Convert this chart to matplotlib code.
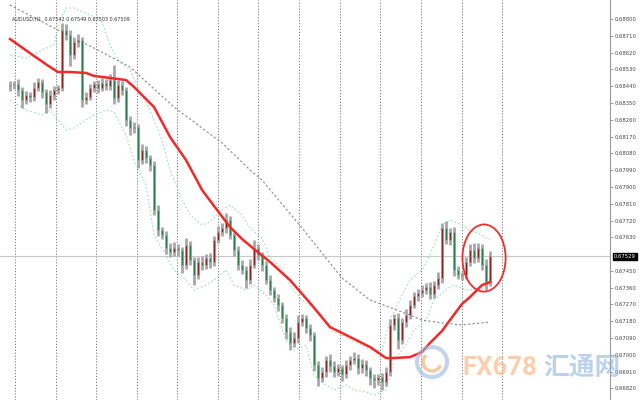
import matplotlib
matplotlib.use("Agg")
import matplotlib.pyplot as plt
from matplotlib.patches import Ellipse, Arc
import numpy as np

# AUDUSD H1 closes (first open given separately, each open = previous close)
first_open = 0.68440
closes = [
    0.68446, 0.68452, 0.68420, 0.68366, 0.68393, 0.68382, 0.68430, 0.68463, 0.68409, 0.68345,
    0.68393, 0.68420, 0.68430, 0.68741, 0.68714, 0.68607, 0.68677, 0.68688, 0.68366, 0.68382,
    0.68430, 0.68452, 0.68430, 0.68457, 0.68441, 0.68473, 0.68377, 0.68446, 0.68420, 0.68259,
    0.68216, 0.68221, 0.68044, 0.68098, 0.68055, 0.68018, 0.67776, 0.67669, 0.67642, 0.67573,
    0.67551, 0.67573, 0.67562, 0.67482, 0.67589, 0.67508, 0.67428, 0.67498, 0.67482, 0.67519,
    0.67498, 0.67616, 0.67659, 0.67680, 0.67723, 0.67642, 0.67562, 0.67482, 0.67455, 0.67401,
    0.67482, 0.67573, 0.67535, 0.67482, 0.67401, 0.67348, 0.67305, 0.67267, 0.67198, 0.67122,
    0.67064, 0.67090, 0.67176, 0.67198, 0.67144, 0.67106, 0.66946, 0.66876, 0.66908, 0.66972,
    0.66940, 0.66908, 0.66930, 0.66897, 0.66946, 0.66972, 0.66983, 0.66930, 0.66951, 0.66919,
    0.66876, 0.66865, 0.66881, 0.66854, 0.66908, 0.67160, 0.67198, 0.67080, 0.67176, 0.67214,
    0.67267, 0.67315, 0.67331, 0.67348, 0.67364, 0.67326, 0.67374, 0.67412, 0.67680, 0.67616,
    0.67659, 0.67455, 0.67428, 0.67428, 0.67498, 0.67562, 0.67519, 0.67573, 0.67482, 0.67390,
    0.67529,
]
# wick lengths in points (1e-5)
wick_up = [
    20, 15, 25, 18, 22, 15, 30, 20, 15, 18,
    25, 20, 15, 40, 30, 25, 20, 30, 15, 25,
    20, 18, 22, 25, 20, 30, 80, 25, 20, 15,
    20, 25, 15, 30, 20, 15, 20, 25, 15, 20,
    25, 30, 20, 15, 35, 20, 15, 25, 30, 20,
    25, 20, 30, 25, 40, 20, 15, 20, 25, 20,
    30, 45, 20, 15, 20, 25, 15, 20, 15, 20,
    25, 30, 40, 20, 15, 20, 15, 20, 25, 20,
    30, 25, 20, 15, 25, 20, 30, 20, 25, 20,
    15, 20, 15, 20, 25, 30, 20, 25, 20, 30,
    25, 20, 20, 25, 20, 25, 20, 30, 25, 40,
    20, 25, 20, 15, 25, 30, 40, 25, 20, 30,
    25,
]
wick_dn = [
    25, 20, 30, 45, 20, 25, 20, 15, 30, 50,
    20, 25, 20, 15, 25, 60, 20, 25, 40, 20,
    15, 20, 25, 15, 20, 20, 30, 20, 25, 30,
    40, 25, 45, 20, 25, 30, 25, 30, 20, 35,
    25, 20, 30, 45, 20, 25, 55, 20, 25, 20,
    30, 20, 15, 20, 25, 20, 30, 25, 20, 45,
    20, 15, 25, 30, 20, 25, 20, 30, 25, 35,
    40, 20, 25, 20, 25, 30, 35, 45, 20, 25,
    30, 25, 20, 35, 20, 25, 20, 30, 25, 30,
    35, 45, 25, 40, 20, 20, 25, 50, 20, 25,
    20, 15, 25, 20, 20, 25, 20, 20, 25, 20,
    25, 30, 20, 25, 20, 20, 25, 20, 25, 45,
    20,
]

# moving averages / bands sampled at bar index
ma_red_x = [0, 6, 10, 12, 15, 19, 21, 25, 29, 31, 36, 40, 44, 48, 51, 55, 58, 61, 65, 70,
            75, 80, 85, 90, 94, 96, 100, 103, 105, 108, 110, 113, 115, 118, 120]
ma_red_y = [0.68693, 0.68602, 0.68543, 0.68516, 0.68516, 0.68511, 0.68495, 0.68484, 0.68473, 0.68436,
            0.68328, 0.68168, 0.68044, 0.67884, 0.67798, 0.67685, 0.67621, 0.67567, 0.67498, 0.67401,
            0.67278, 0.67149, 0.67096, 0.67042, 0.66983, 0.66983, 0.66988, 0.67015, 0.67064, 0.67128,
            0.67187, 0.67273, 0.67310, 0.67374, 0.67390]
ma_gray_x = [0, 12, 22, 30, 41, 48, 53, 60, 63, 73, 83, 90, 98, 103, 108, 113, 120]
ma_gray_y = [0.68875, 0.68741, 0.68634, 0.68543, 0.68328, 0.68216, 0.68136, 0.67991, 0.67937, 0.67680,
             0.67412, 0.67294, 0.67230, 0.67187, 0.67171, 0.67160, 0.67176]
band_up_x = [0, 4, 8, 11, 12, 14, 16, 20, 23, 25, 27, 30, 33, 35, 38, 40, 43, 45, 48, 50,
             53, 55, 58, 60, 63, 65, 68, 70, 73, 75, 78, 80, 83, 85, 88, 90, 93, 95, 98, 100,
             103, 105, 108, 110, 113, 115, 118, 120]
band_up_y = [0.68607, 0.68591, 0.68634, 0.68661, 0.68768, 0.68859, 0.68859, 0.68822, 0.68784, 0.68661,
             0.68580, 0.68527, 0.68393, 0.68312, 0.68152, 0.67991, 0.67830, 0.67750, 0.67696, 0.67712,
             0.67776, 0.67803, 0.67750, 0.67680, 0.67626, 0.67519, 0.67466, 0.67374, 0.67294, 0.67267,
             0.67214, 0.67133, 0.67106, 0.67080, 0.67053, 0.67026, 0.67026, 0.67187, 0.67321, 0.67401,
             0.67455, 0.67535, 0.67696, 0.67723, 0.67696, 0.67669, 0.67642, 0.67616]
band_dn_x = [0, 4, 8, 10, 12, 14, 16, 19, 21, 24, 26, 29, 31, 34, 36, 39, 41, 44, 46, 49,
             51, 54, 56, 59, 61, 64, 66, 69, 71, 74, 76, 79, 81, 84, 86, 89, 91, 94, 96, 99,
             101, 104, 106, 109, 111, 114, 116, 120]
band_dn_y = [0.68366, 0.68312, 0.68286, 0.68312, 0.68259, 0.68205, 0.68216, 0.68259, 0.68286, 0.68312,
             0.68302, 0.68178, 0.68044, 0.67910, 0.67642, 0.67535, 0.67455, 0.67401, 0.67348, 0.67374,
             0.67401, 0.67455, 0.67374, 0.67348, 0.67374, 0.67321, 0.67267, 0.67080, 0.67026, 0.67053,
             0.66892, 0.66838, 0.66812, 0.66838, 0.66812, 0.66801, 0.66785, 0.66812, 0.66972, 0.67053,
             0.67133, 0.67187, 0.67294, 0.67348, 0.67374, 0.67348, 0.67348, 0.67358]

separators = [1.25, 11.4, 21.5, 31.7, 41.8, 52.0, 62.1, 72.3, 82.4, 92.6, 102.7, 112.9, 123.0]
y_ticks = [0.68800, 0.68710, 0.68620, 0.68530, 0.68440, 0.68350, 0.68260, 0.68170, 0.68080,
           0.67990, 0.67900, 0.67810, 0.67720, 0.67630, 0.67450, 0.67360, 0.67270, 0.67180,
           0.67090, 0.67000, 0.66910, 0.66820]
last_price = 0.67529
title = "AUDUSD,H1  0.67542 0.67549 0.67503 0.67509"

fig = plt.figure(figsize=(6.4, 4.0), dpi=100)
ax = fig.add_axes([0, 0, 610 / 640, 1])
ax.set_xlim(-2.5, 150)
ax.set_ylim(0.66758, 0.68902)

for s in separators:
    ax.axvline(s, color="#777777", lw=0.7, ls=(0, (1.2, 1.8)), zorder=1)
ax.axhline(last_price, color="#c8c8c8", lw=0.8, zorder=1)

ax.plot(band_up_x, band_up_y, color="#9ddcb9", lw=0.8, ls=(0, (1.5, 2)), zorder=2)
ax.plot(band_dn_x, band_dn_y, color="#9ddcb9", lw=0.8, ls=(0, (1.5, 2)), zorder=2)
ax.plot(ma_gray_x, ma_gray_y, color="#888888", lw=0.8, ls=(0, (2, 2)), zorder=2)

opens = [first_open] + closes[:-1]
for i, (o, c) in enumerate(zip(opens, closes)):
    hi = max(o, c) + wick_up[i] / 1e5
    lo = min(o, c) - wick_dn[i] / 1e5
    ax.plot([i, i], [lo, hi], color="#a8a8a8", lw=2.0, zorder=3, solid_capstyle="butt")
    col = "#8b2323" if c >= o else "#2e7d4f"
    h = max(abs(c - o), 0.00003)
    ax.bar(i, h, bottom=min(o, c), width=0.55, color=col, edgecolor="#aaaaaa", lw=0.5, zorder=4)

ax.plot(ma_red_x, ma_red_y, color="#f02a2a", lw=1.8, zorder=5)

ax.add_patch(Ellipse((118.5, 0.67519), 10.8, 0.00360, fill=False, edgecolor="#f03030", lw=1.3, zorder=6))

for sp in ["top", "left", "bottom"]:
    ax.spines[sp].set_visible(False)
ax.spines["right"].set_color("#9a9a9a")
ax.spines["right"].set_linewidth(0.8)
ax.set_xticks([])
ax.yaxis.tick_right()
ax.set_yticks(y_ticks)
ax.set_yticklabels([f"{v:.5f}" for v in y_ticks])
ax.tick_params(axis="y", length=2, width=0.5, color="#777777", labelsize=3.8,
               labelcolor="#444444", pad=1.5)

ax.text(1.006, last_price, f"{last_price:.5f}", transform=ax.get_yaxis_transform(),
        fontsize=3.8, color="white", va="center", ha="left",
        bbox=dict(boxstyle="square,pad=0.2", fc="black", ec="black"))

ax.text(0.5, 0.688, title, fontsize=3.5, color="#333333", va="center", ha="left")

# watermark
fig.patches.append(Ellipse((0.675, 0.095), 30 / 640, 30 / 400, transform=fig.transFigure,
                           fill=False, ec="#9cb8e0", lw=3, alpha=0.6))
fig.patches.append(Arc((0.675, 0.095), 18 / 640, 18 / 400, theta1=120, theta2=330,
                       transform=fig.transFigure, ec="#f5b27a", lw=2.5, alpha=0.7))
fig.text(0.722, 0.062, "FX678", fontsize=18.5, color="#f7b07a", alpha=0.6, fontweight="bold",
         family=["Roboto", "DejaVu Sans"])
fig.text(0.849, 0.062, "汇通网", fontsize=18.5, color="#8fb5e0", alpha=0.6, fontweight="bold",
         family=["Noto Sans CJK SC", "DejaVu Sans"])

fig.savefig("out.png", dpi=100)
